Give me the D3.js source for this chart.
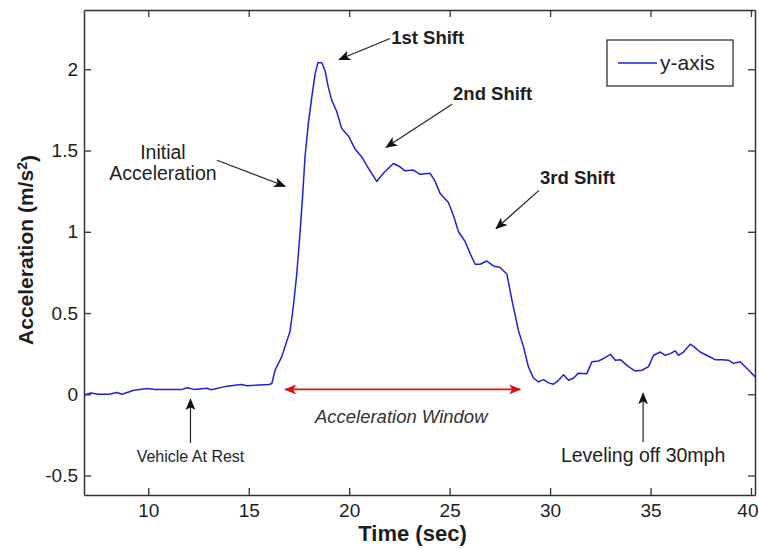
<!DOCTYPE html>
<html>
<head>
<meta charset="utf-8">
<script src="https://cdn.jsdelivr.net/npm/d3@7"></script>
<style>
  html, body { margin: 0; padding: 0; background: #fff; }
  svg { display: block; font-family: Arial, "Liberation Sans", sans-serif; }
</style>
</head>
<body>
<svg id="chart" width="759" height="549"></svg>
<script>
// ---- data ----
const time = [6.80, 7.15, 7.5, 8.04, 8.44, 8.69, 9.29, 9.94, 10.38, 11.68, 11.93, 12.28, 12.92, 13.13, 13.92, 14.62, 14.92, 16.01, 16.15, 16.31, 16.64, 17.06, 17.22, 17.39, 17.55, 17.69, 17.80, 17.97, 18.14, 18.30, 18.44, 18.64, 18.80, 18.96, 19.13, 19.38, 19.63, 19.96, 20.29, 20.63, 20.96, 21.37, 21.70, 22.20, 22.53, 22.78, 23.20, 23.53, 24.03, 24.28, 24.53, 24.94, 25.19, 25.44, 25.77, 26.02, 26.27, 26.52, 26.85, 27.18, 27.51, 27.85, 28.10, 28.43, 28.68, 28.92, 29.17, 29.42, 29.67, 29.92, 30.17, 30.42, 30.67, 30.92, 31.17, 31.41, 31.83, 32.08, 32.41, 32.66, 33.00, 33.25, 33.50, 33.90, 34.24, 34.57, 34.90, 35.15, 35.48, 35.73, 35.98, 36.23, 36.39, 36.64, 36.98, 37.14, 37.47, 37.89, 38.22, 38.56, 38.88, 39.13, 39.46, 39.80, 40.21];
const accel = [-0.005, 0.008, 0.0, 0.0, 0.011, 0.0, 0.025, 0.035, 0.03, 0.03, 0.04, 0.03, 0.037, 0.028, 0.05, 0.06, 0.053, 0.06, 0.066, 0.148, 0.23, 0.39, 0.54, 0.74, 0.99, 1.235, 1.46, 1.67, 1.83, 1.97, 2.04, 2.04, 1.99, 1.89, 1.81, 1.74, 1.635, 1.59, 1.51, 1.46, 1.39, 1.31, 1.36, 1.42, 1.40, 1.375, 1.38, 1.354, 1.36, 1.31, 1.235, 1.18, 1.10, 1.0, 0.94, 0.866, 0.80, 0.80, 0.82, 0.79, 0.78, 0.74, 0.58, 0.39, 0.29, 0.17, 0.10, 0.076, 0.09, 0.07, 0.062, 0.086, 0.12, 0.086, 0.10, 0.13, 0.127, 0.2, 0.205, 0.22, 0.246, 0.21, 0.213, 0.17, 0.143, 0.148, 0.17, 0.24, 0.26, 0.24, 0.25, 0.267, 0.24, 0.26, 0.308, 0.295, 0.26, 0.234, 0.213, 0.213, 0.21, 0.19, 0.2, 0.158, 0.107];
const xTicks = [10, 15, 20, 25, 30, 35, 40];
const yTicks = [-0.5, 0, 0.5, 1, 1.5, 2];
const xDomain = [6.8, 40.2];
const yDomain = [-0.62, 2.365];
const seriesName = "y-axis";
const xLabel = "Time (sec)";
const yLabel = "Acceleration (m/s";

// annotations in data coordinates
const labels = [
  { text: "1st Shift", t: 22.09, v: 2.154, anchor: "start", bold: true },
  { text: "2nd Shift", t: 25.17, v: 1.809, anchor: "start", bold: true },
  { text: "3rd Shift", t: 29.50, v: 1.292, anchor: "start", bold: true },
  { text: "Initial", t: 10.73, v: 1.45, anchor: "middle" },
  { text: "Acceleration", t: 10.73, v: 1.317, anchor: "middle" },
  { text: "Vehicle At Rest", t: 12.10, v: -0.417, anchor: "middle", small: true },
  { text: "Leveling off 30mph", t: 34.63, v: -0.414, anchor: "middle" },
  { text: "Acceleration Window", t: 22.59, v: -0.178, anchor: "middle", italic: true }
];
const arrows = [
  { t1: 22.04, v1: 2.19, t2: 19.50, v2: 2.06 },
  { t1: 25.12, v1: 1.785, t2: 21.84, v2: 1.52 },
  { t1: 29.45, v1: 1.255, t2: 27.31, v2: 1.02 },
  { t1: 13.42, v1: 1.44, t2: 16.81, v2: 1.28 },
  { t1: 12.10, v1: -0.30, t2: 12.10, v2: -0.03 },
  { t1: 34.63, v1: -0.295, t2: 34.63, v2: 0.006 }
];
const windowArrow = { t1: 16.81, t2: 28.51, v: 0.03 };

// ---- layout ----
const svg = d3.select("#chart");
const W = 759;
const M = { left: 84, right: 755, top: 10, bottom: 495 };
const x = d3.scaleLinear().domain(xDomain).range([M.left, M.right]);
const y = d3.scaleLinear().domain(yDomain).range([M.bottom, M.top]);
const textColor = "#1e1e1e";

const defs = svg.append("defs");
defs.append("clipPath").attr("id", "clip")
  .append("rect").attr("x", M.left).attr("y", M.top)
  .attr("width", M.right - M.left).attr("height", M.bottom - M.top);
function marker(id, color) {
  defs.append("marker").attr("id", id)
    .attr("viewBox", "0 0 12 10").attr("refX", 11).attr("refY", 5)
    .attr("markerWidth", 12).attr("markerHeight", 10)
    .attr("markerUnits", "userSpaceOnUse")
    .attr("orient", "auto-start-reverse")
    .append("path").attr("d", "M0,0 L12,5 L0,10 L3,5 Z").attr("fill", color);
}
marker("arrowBlack", "#111");
marker("arrowRed", "#e01010");

// axes (ticks inside, MATLAB style)
const tickFont = 19;
const fmt = d => String(d);
const gx = svg.append("g").attr("transform", `translate(0,${M.bottom})`)
  .call(d3.axisBottom(x).tickValues(xTicks).tickFormat(fmt).tickSizeInner(-7).tickSizeOuter(0).tickPadding(9));
const gy = svg.append("g").attr("transform", `translate(${M.left},0)`)
  .call(d3.axisLeft(y).tickValues(yTicks).tickFormat(fmt).tickSizeInner(-7).tickSizeOuter(0).tickPadding(6));
const gt = svg.append("g").attr("transform", `translate(0,${M.top})`)
  .call(d3.axisTop(x).tickValues(xTicks).tickFormat("").tickSizeInner(-7).tickSizeOuter(0));
const gr = svg.append("g").attr("transform", `translate(${M.right},0)`)
  .call(d3.axisRight(y).tickValues(yTicks).tickFormat("").tickSizeInner(-7).tickSizeOuter(0));
[gx, gy, gt, gr].forEach(g => {
  g.selectAll(".domain").attr("stroke", "#333").attr("stroke-width", 1.5);
  g.selectAll(".tick line").attr("stroke", "#333").attr("stroke-width", 1.3);
  g.selectAll(".tick text").attr("fill", textColor).attr("font-size", tickFont)
    .attr("font-family", "Arial, 'Liberation Sans', sans-serif");
});
// keep the last bottom label inside the page edge
gx.selectAll(".tick text").each(function(d) {
  const sel = d3.select(this);
  const bb = this.getBBox();
  const tx = x(d);
  const over = tx + bb.width / 2 - (W - 1);
  if (over > 0) sel.attr("x", -over);
});

// data line
const line = d3.line().x((d, i) => x(time[i])).y((d, i) => y(accel[i]));
svg.append("path").datum(accel)
  .attr("clip-path", "url(#clip)")
  .attr("d", line)
  .attr("fill", "none").attr("stroke", "#2020dd").attr("stroke-width", 1.5)
  .attr("stroke-linejoin", "round");

// arrows
svg.append("g").selectAll("line").data(arrows).join("line")
  .attr("x1", d => x(d.t1)).attr("y1", d => y(d.v1))
  .attr("x2", d => x(d.t2)).attr("y2", d => y(d.v2))
  .attr("stroke", "#222").attr("stroke-width", 1.2)
  .attr("marker-end", "url(#arrowBlack)");

svg.append("line")
  .attr("x1", x(windowArrow.t1)).attr("x2", x(windowArrow.t2))
  .attr("y1", y(windowArrow.v)).attr("y2", y(windowArrow.v))
  .attr("stroke", "#e01010").attr("stroke-width", 1.6)
  .attr("marker-start", "url(#arrowRed)").attr("marker-end", "url(#arrowRed)");

// annotation labels
svg.append("g").selectAll("text").data(labels).join("text")
  .attr("x", d => x(d.t)).attr("y", d => y(d.v))
  .attr("text-anchor", d => d.anchor)
  .attr("font-size", d => d.bold ? 18.5 : d.small ? 16 : d.italic ? 18.5 : 19.5)
  .attr("font-weight", d => d.bold ? "bold" : "normal")
  .attr("font-style", d => d.italic ? "italic" : "normal")
  .attr("fill", d => d.italic ? "#333" : textColor)
  .text(d => d.text);

// legend
const lg = svg.append("g");
lg.append("rect").attr("x", 607).attr("y", 40).attr("width", 126).attr("height", 46)
  .attr("fill", "#fff").attr("stroke", "#222").attr("stroke-width", 1.2);
lg.append("line").attr("x1", 618).attr("x2", 657).attr("y1", 63).attr("y2", 63)
  .attr("stroke", "#2020dd").attr("stroke-width", 1.6);
lg.append("text").attr("x", 660).attr("y", 70).attr("font-size", 21).attr("fill", textColor).text(seriesName);

// axis titles
svg.append("text").attr("x", (M.left + M.right) / 2 - 7).attr("y", 541)
  .attr("text-anchor", "middle").attr("font-size", 22).attr("font-weight", "bold")
  .attr("fill", textColor).text(xLabel);
const yl = svg.append("text")
  .attr("transform", `translate(33,250) rotate(-90)`)
  .attr("text-anchor", "middle").attr("font-size", 21).attr("font-weight", "bold")
  .attr("fill", textColor);
yl.append("tspan").text(yLabel);
yl.append("tspan").attr("dy", "-0.45em").attr("font-size", 14).text("2");
yl.append("tspan").attr("dy", "0.45em").text(")");
</script>
</body>
</html>
